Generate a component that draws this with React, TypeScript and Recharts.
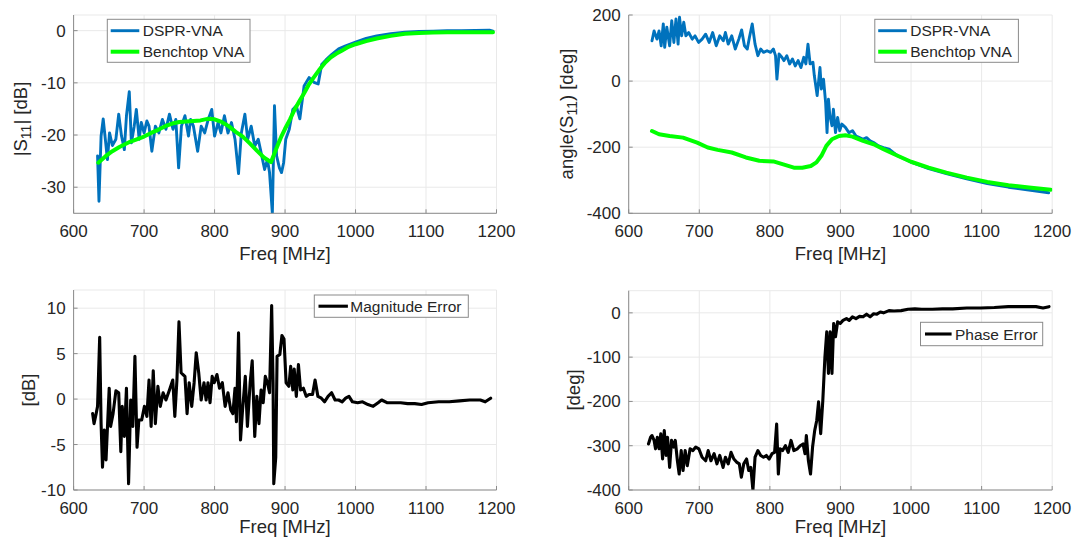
import React from 'react';
import { LineChart, Line, XAxis, YAxis, CartesianGrid } from 'recharts';

// ---------- data ----------
const xTicks = [600, 700, 800, 900, 1000, 1100, 1200];
const magTicks = [-30, -20, -10, 0];
const phaseTicks = [-400, -200, 0, 200];
const magErrTicks = [-10, -5, 0, 5, 10];
const phaseErrTicks = [-400, -300, -200, -100, 0];

const seriesNames = ['DSPR-VNA', 'Benchtop VNA'];
const magErrName = 'Magnitude Error';
const phaseErrName = 'Phase Error';

// |S11| DSPR-VNA [dB]
const magDsprFreq = [634, 636, 639, 642, 645, 648, 651, 655, 660, 664, 668, 672, 675, 679, 682, 686, 689, 693, 696, 700, 704, 707, 711, 716, 721, 726, 731, 736, 741, 745, 749, 753, 758, 763, 766, 770, 776, 781, 786, 791, 796, 800, 805, 809, 814, 819, 824, 829, 834, 838, 843, 847, 852, 857, 862, 867, 871, 875, 878, 882, 885, 888, 892, 895, 898, 901, 906, 911, 916, 921, 927, 934, 941, 947, 952, 958, 966, 976, 986, 1000, 1015, 1030, 1050, 1070, 1090, 1110, 1130, 1150, 1170, 1190, 1195];
const magDsprVals = [-24, -32.7, -20.2, -16.9, -20.8, -24.7, -19.6, -22, -20.8, -16, -20.2, -22.8, -16.3, -11.7, -21.5, -18.3, -15.1, -20.8, -17.6, -19.6, -17.3, -18.3, -23.1, -18.3, -19.6, -17, -18.9, -16, -18.9, -17, -26.3, -18.3, -16.3, -20.2, -17, -18.3, -23.1, -18.3, -19.6, -17, -15.1, -20.2, -17.6, -19.6, -16.3, -19.6, -17.6, -20.8, -27.4, -19.6, -16, -20.8, -18.3, -22.1, -20.8, -24, -26.6, -24.7, -27.2, -35, -14.4, -24, -26.3, -27.2, -25.3, -20.8, -18.9, -15.1, -14.4, -16.9, -10.6, -9, -9.9, -10.2, -6.5, -5.6, -4.6, -3.5, -2.9, -2.2, -1.5, -1, -0.6, -0.3, -0.15, -0.1, 0, 0, 0.05, 0.1, -0.1];

// |S11| Benchtop VNA [dB]
const magBenchFreq = [635, 645, 655, 665, 680, 700, 710, 720, 730, 740, 750, 760, 770, 780, 790, 800, 810, 820, 830, 840, 850, 860, 870, 880, 885, 890, 895, 900, 907, 914, 920, 927, 933, 940, 948, 957, 965, 973, 981, 990, 1000, 1015, 1030, 1050, 1070, 1090, 1110, 1130, 1150, 1170, 1195];
const magBenchVals = [-25.3, -24.1, -23.1, -22.3, -21.3, -20.3, -19.6, -19, -18.3, -17.8, -17.5, -17.4, -17.3, -17.2, -16.9, -17, -17.5, -18.3, -19.4, -20.3, -21.6, -23, -24.3, -25.2, -23.5, -21.8, -20.2, -18.8, -17, -15, -13.6, -12, -10.5, -9.1, -7.6, -6.1, -5.1, -4.4, -3.8, -3.1, -2.6, -2, -1.5, -1, -0.6, -0.45, -0.35, -0.3, -0.3, -0.3, -0.3];

// angle(S11) DSPR-VNA [deg]
const phaseDsprFreq = [633, 636, 640, 643, 646, 649, 651, 654, 658, 661, 664, 667, 670, 672, 675, 678, 681, 685, 690, 694, 699, 704, 709, 714, 719, 724, 729, 734, 737, 741, 746, 751, 756, 760, 764, 768, 771, 775, 779, 783, 787, 791, 796, 801, 805, 808, 810, 813, 817, 820, 824, 828, 832, 836, 840, 844, 848, 851, 854, 857, 861, 863, 867, 871, 873, 876, 879, 881, 883, 885, 888, 890, 893, 896, 899, 902, 907, 912, 917, 922, 927, 932, 937, 942, 947, 954, 961, 969, 981, 1000, 1025, 1050, 1079, 1108, 1138, 1167, 1195];
const phaseDsprVals = [122, 152, 127, 152, 107, 173, 102, 163, 107, 183, 117, 188, 112, 193, 137, 178, 137, 147, 127, 137, 117, 127, 142, 117, 147, 107, 137, 122, 147, 112, 137, 97, 127, 155, 107, 97, 132, 173, 112, 77, 97, 87, 92, 87, 97, 77, 6, 82, 72, 62, 77, 52, 67, 46, 62, 41, 72, 52, 112, 52, 57, 16, -44, 41, -24, 6, -65, -156, -55, -105, -135, -85, -156, -110, -150, -130, -140, -156, -150, -166, -171, -176, -171, -181, -186, -196, -201, -206, -226, -245, -265, -280, -296, -310, -321, -330, -338];

// angle(S11) Benchtop VNA [deg]
const phaseBenchFreq = [633, 643, 658, 677, 697, 712, 726, 746, 766, 785, 805, 819, 834, 846, 858, 866, 873, 880, 888, 898, 907, 917, 932, 947, 961, 981, 1000, 1025, 1050, 1079, 1108, 1138, 1167, 1198];
const phaseBenchVals = [-151, -161, -166, -171, -186, -201, -208, -216, -231, -241, -243, -252, -262, -262, -257, -246, -226, -196, -176, -166, -164, -168, -181, -191, -206, -226, -244, -262, -277, -292, -305, -315, -322, -329];

// Magnitude error [dB]
const magErrFreq = [627, 629, 632, 634, 637, 639, 641, 643.6, 646, 648.5, 650.5, 652.5, 656, 660, 664, 667, 669, 672, 675, 678, 681, 684, 687, 690, 692.6, 696.6, 700.5, 704, 707, 710, 713, 716, 719.6, 723, 727, 731, 736, 740.7, 743.6, 746.6, 749.5, 752.5, 755, 758, 761, 764, 767.6, 771, 774, 777.5, 781, 785, 788, 790.7, 793.6, 796.6, 799.5, 803.4, 807, 811, 815, 819, 823, 826, 829, 831, 834, 836.8, 839.7, 843.6, 846.6, 850.5, 853.4, 857, 860, 863, 866, 869, 872, 875, 878, 881, 883, 884, 886.8, 888.7, 892.6, 895.6, 898.5, 901.5, 905.4, 908, 911, 913, 916, 919, 922, 926, 930, 934, 939, 942.6, 946.6, 951.5, 956, 961, 966, 971, 976, 981, 986, 990.7, 995.6, 1003, 1010, 1017.6, 1025, 1032, 1037, 1044.6, 1054, 1064, 1074, 1084, 1093.6, 1103, 1118, 1133, 1147.5, 1162, 1177, 1184, 1191.7];
const magErrVals = [-1.6, -2.7, -1.6, -0.8, 6.8, -2.7, -7.5, -3.4, -6.7, -2.3, 1.2, -3, -1.6, 0.9, 0.7, -5.8, -0.8, -4.1, 1.2, -9.3, -0.1, -3, 4.7, -5.3, -2.3, -2.3, -0.8, -1.9, 2.1, -3, 3.1, -2.7, 1.4, -0.8, 0.7, -0.1, 1, 2.1, -1.9, 2.1, 8.5, 2.9, 2.7, 2.5, -1.6, 1.8, -0.8, 1.8, 5.1, 2.9, -0.1, 1.8, -0.1, 1.8, -0.4, 2.5, 1.8, 2.7, 1.2, 1.8, -0.8, 0.7, -1.2, -1.6, 1.2, -2.5, 7.3, -4.5, -1.2, 2.5, -3, 1.8, 4.2, -4.1, 0.3, -2.7, 1, -0.4, 2.5, 1.8, 0.7, 10.3, 1.8, -9.3, -6.4, 4.7, 4.9, 7, 6.6, 1.8, 1.4, 3.6, 1, 3.3, 0.3, 3.8, 1, 1.2, 0.3, 0.5, 0.5, 2.1, 0.3, 0.1, -0.3, 0.3, 0.7, -0.1, -0.1, -0.3, 0.1, 0.3, -0.3, -0.4, -0.3, -0.6, -0.8, -0.4, -0.1, -0.4, -0.4, -0.4, -0.5, -0.5, -0.6, -0.4, -0.3, -0.3, -0.2, -0.1, -0.1, -0.3, 0.1];

// Phase error [deg]
const phaseErrFreq = [628, 631, 633, 636, 638, 640.6, 643, 645.5, 648, 650.4, 653, 655, 658, 660.7, 663.7, 666, 669, 671.5, 674.4, 677, 680, 683, 687, 691, 695, 699.4, 704, 709, 712.6, 716.5, 721, 725, 729, 733.7, 737, 741, 745, 749, 752.8, 756.7, 759.6, 763, 767, 770, 773, 776, 779, 783, 787, 791, 795, 799, 803, 806.7, 809.6, 812, 814.5, 818, 822, 826, 830, 834, 839, 843, 847, 849.8, 851.7, 854.6, 857.6, 860.5, 863.5, 866.4, 869, 872, 875, 878, 880.6, 883, 885.5, 888, 890.4, 893, 896, 899.7, 903.6, 908.5, 912.4, 917, 922, 927, 932, 937, 942, 947, 951.6, 956.5, 961, 968.7, 976, 986, 995.7, 1005.5, 1015, 1030, 1044.6, 1059, 1079, 1098.5, 1118, 1137.7, 1157, 1177, 1187, 1195.5];
const phaseErrVals = [-296, -281, -277, -288, -307, -281, -307, -273, -330, -266, -322, -281, -349, -288, -303, -288, -334, -364, -311, -356, -311, -345, -307, -311, -303, -307, -326, -334, -311, -334, -318, -341, -322, -349, -326, -341, -315, -330, -337, -341, -371, -341, -330, -356, -349, -400, -326, -311, -322, -326, -322, -330, -318, -315, -251, -364, -307, -311, -300, -315, -288, -311, -307, -300, -296, -318, -277, -334, -364, -303, -266, -243, -201, -273, -198, -100, -43, -137, -43, -137, -24, -54, -20, -24, -17, -13, -17, -9, -13, -8, -9, -3, -9, -2, -3, 2, 0, 5, 4, 5, 8, 9, 8, 8, 9, 9, 11, 11, 12, 14, 14, 14, 11, 14];

// ---------- styling ----------
const FONT = '"Liberation Sans", Arial, Helvetica, sans-serif';
const TXT = '#262626';
const AXIS = '#8c8c8c';
const GRID = '#e9e9e9';
const BLUE = '#0072BD';
const GREEN = '#00FF00';
const BLACK = '#000000';
const BLUE_W = 2.9;
const GREEN_W = 4;
const BLACK_W = 3.1;

type Pt = { f: number; v: number };
const zip = (fs: number[], vs: number[]): Pt[] => fs.map((f, i) => ({ f, v: vs[i] }));

type SeriesDef = { name: string; data: Pt[]; color: string; width: number };
type PanelDef = {
  left: number;
  top: number;
  margin: { top: number; right: number; bottom: number; left: number };
  yDomain: [number, number];
  yTicks: number[];
  series: SeriesDef[];
};

const W = 540;
const H = 274;

const panels: PanelDef[] = [
  {
    left: 0, top: 0,
    margin: { top: 15, right: 43.5, bottom: 30.7, left: 23.6 },
    yDomain: [-35, 3], yTicks: magTicks,
    series: [
      { name: seriesNames[0], data: zip(magDsprFreq, magDsprVals), color: BLUE, width: BLUE_W },
      { name: seriesNames[1], data: zip(magBenchFreq, magBenchVals), color: GREEN, width: GREEN_W },
    ],
  },
  {
    left: 538, top: 0,
    margin: { top: 15, right: 25.8, bottom: 30.7, left: 40.7 },
    yDomain: [-400, 200], yTicks: phaseTicks,
    series: [
      { name: seriesNames[0], data: zip(phaseDsprFreq, phaseDsprVals), color: BLUE, width: BLUE_W },
      { name: seriesNames[1], data: zip(phaseBenchFreq, phaseBenchVals), color: GREEN, width: GREEN_W },
    ],
  },
  {
    left: 0, top: 274,
    margin: { top: 16, right: 43.5, bottom: 28, left: 23.6 },
    yDomain: [-10, 12], yTicks: magErrTicks,
    series: [{ name: magErrName, data: zip(magErrFreq, magErrVals), color: BLACK, width: BLACK_W }],
  },
  {
    left: 538, top: 274,
    margin: { top: 16.7, right: 25.8, bottom: 28, left: 40.7 },
    yDomain: [-400, 50], yTicks: phaseErrTicks,
    series: [{ name: phaseErrName, data: zip(phaseErrFreq, phaseErrVals), color: BLACK, width: BLACK_W }],
  },
];

const tickStyle = { fill: TXT, fontSize: 17, fontFamily: FONT };

function Panel({ p }: { p: PanelDef }) {
  return (
    <div style={{ position: 'absolute', left: p.left, top: p.top, width: W, height: H }}>
      <LineChart width={W} height={H} margin={p.margin}>
        <CartesianGrid stroke={GRID} strokeWidth={1} />
        <XAxis
          dataKey="f"
          type="number"
          domain={[600, 1200]}
          ticks={xTicks}
          allowDataOverflow
          height={30}
          tick={tickStyle}
          tickSize={-4}
          tickMargin={16}
          tickLine={{ stroke: AXIS }}
          axisLine={{ stroke: AXIS }}
        />
        <XAxis
          xAxisId="top"
          orientation="top"
          type="number"
          domain={[600, 1200]}
          ticks={xTicks}
          allowDataOverflow
          height={0}
          tick={false}
          tickSize={-4}
          tickLine={{ stroke: AXIS }}
          axisLine={{ stroke: AXIS }}
        />
        <YAxis
          type="number"
          domain={p.yDomain}
          ticks={p.yTicks}
          allowDataOverflow
          width={50}
          tick={tickStyle}
          tickSize={-4}
          tickMargin={12}
          tickLine={{ stroke: AXIS }}
          axisLine={{ stroke: AXIS }}
        />
        <YAxis
          yAxisId="right"
          orientation="right"
          type="number"
          domain={p.yDomain}
          ticks={p.yTicks}
          allowDataOverflow
          width={0}
          tick={false}
          tickSize={-4}
          tickLine={{ stroke: AXIS }}
          axisLine={{ stroke: AXIS }}
        />
        {p.series.map((s) => (
          <Line
            key={s.name}
            data={s.data}
            dataKey="v"
            name={s.name}
            type="linear"
            stroke={s.color}
            strokeWidth={s.width}
            strokeLinejoin="round"
            strokeLinecap="round"
            dot={false}
            activeDot={false}
            isAnimationActive={false}
          />
        ))}
      </LineChart>
    </div>
  );
}

type LegendDef = {
  x: number; y: number; w: number; h: number;
  lineX0: number; lineX1: number; textX: number;
  rows: { y: number; name: string; color: string; width: number }[];
};

const legends: LegendDef[] = [
  {
    x: 107.3, y: 19.3, w: 142.7, h: 43, lineX0: 110.7, lineX1: 139.3, textX: 142.7,
    rows: [
      { y: 30.7, name: seriesNames[0], color: BLUE, width: BLUE_W },
      { y: 51.7, name: seriesNames[1], color: GREEN, width: GREEN_W },
    ],
  },
  {
    x: 874.8, y: 19.3, w: 143.6, h: 43, lineX0: 878.2, lineX1: 906.8, textX: 910.2,
    rows: [
      { y: 30.7, name: seriesNames[0], color: BLUE, width: BLUE_W },
      { y: 51.7, name: seriesNames[1], color: GREEN, width: GREEN_W },
    ],
  },
  {
    x: 314.3, y: 295, w: 154, h: 22.3, lineX0: 318.5, lineX1: 347.9, textX: 350.3,
    rows: [{ y: 306.2, name: magErrName, color: BLACK, width: BLACK_W }],
  },
  {
    x: 920.5, y: 322.3, w: 122.2, h: 23.4, lineX0: 925, lineX1: 951.6, textX: 955,
    rows: [{ y: 334, name: phaseErrName, color: BLACK, width: BLACK_W }],
  },
];

function Overlay() {
  const lab = { fill: TXT, fontSize: 18.5, fontFamily: FONT };
  return (
    <svg
      width={1078}
      height={548}
      style={{ position: 'absolute', left: 0, top: 0, pointerEvents: 'none' }}
    >
      {/* axis titles */}
      <text x={285} y={259.5} textAnchor="middle" {...lab}>Freq [MHz]</text>
      <text x={840.5} y={259.5} textAnchor="middle" {...lab}>Freq [MHz]</text>
      <text x={285} y={533.4} textAnchor="middle" {...lab}>Freq [MHz]</text>
      <text x={840.5} y={533.4} textAnchor="middle" {...lab}>Freq [MHz]</text>

      <text transform="translate(27,119) rotate(-90)" textAnchor="middle" {...lab}>
        |S<tspan fontSize={14} dy={4}>11</tspan><tspan dy={-4}>| [dB]</tspan>
      </text>
      <text transform="translate(573,114) rotate(-90)" textAnchor="middle" {...lab}>
        angle(S<tspan fontSize={14} dy={4}>11</tspan><tspan dy={-4}>) [deg]</tspan>
      </text>
      <text transform="translate(35,390) rotate(-90)" textAnchor="middle" {...lab}>[dB]</text>
      <text transform="translate(580,390) rotate(-90)" textAnchor="middle" {...lab}>[deg]</text>

      {/* legends */}
      {legends.map((l, i) => (
        <g key={i}>
          <rect x={l.x} y={l.y} width={l.w} height={l.h} fill="#ffffff" stroke="#8a8a8a" strokeWidth={1} />
          {l.rows.map((r) => (
            <g key={r.name}>
              <line x1={l.lineX0} x2={l.lineX1} y1={r.y} y2={r.y} stroke={r.color} strokeWidth={r.width} />
              <text x={l.textX} y={r.y + 5.5} fill={TXT} fontSize={15.5} fontFamily={FONT}>{r.name}</text>
            </g>
          ))}
        </g>
      ))}
    </svg>
  );
}

export default function App() {
  return (
    <div
      style={{
        position: 'absolute',
        left: 0,
        top: 0,
        width: 1078,
        height: 548,
        background: '#ffffff',
        fontFamily: FONT,
        overflow: 'hidden',
      }}
    >
      {panels.map((p, i) => (
        <Panel key={i} p={p} />
      ))}
      <Overlay />
    </div>
  );
}
